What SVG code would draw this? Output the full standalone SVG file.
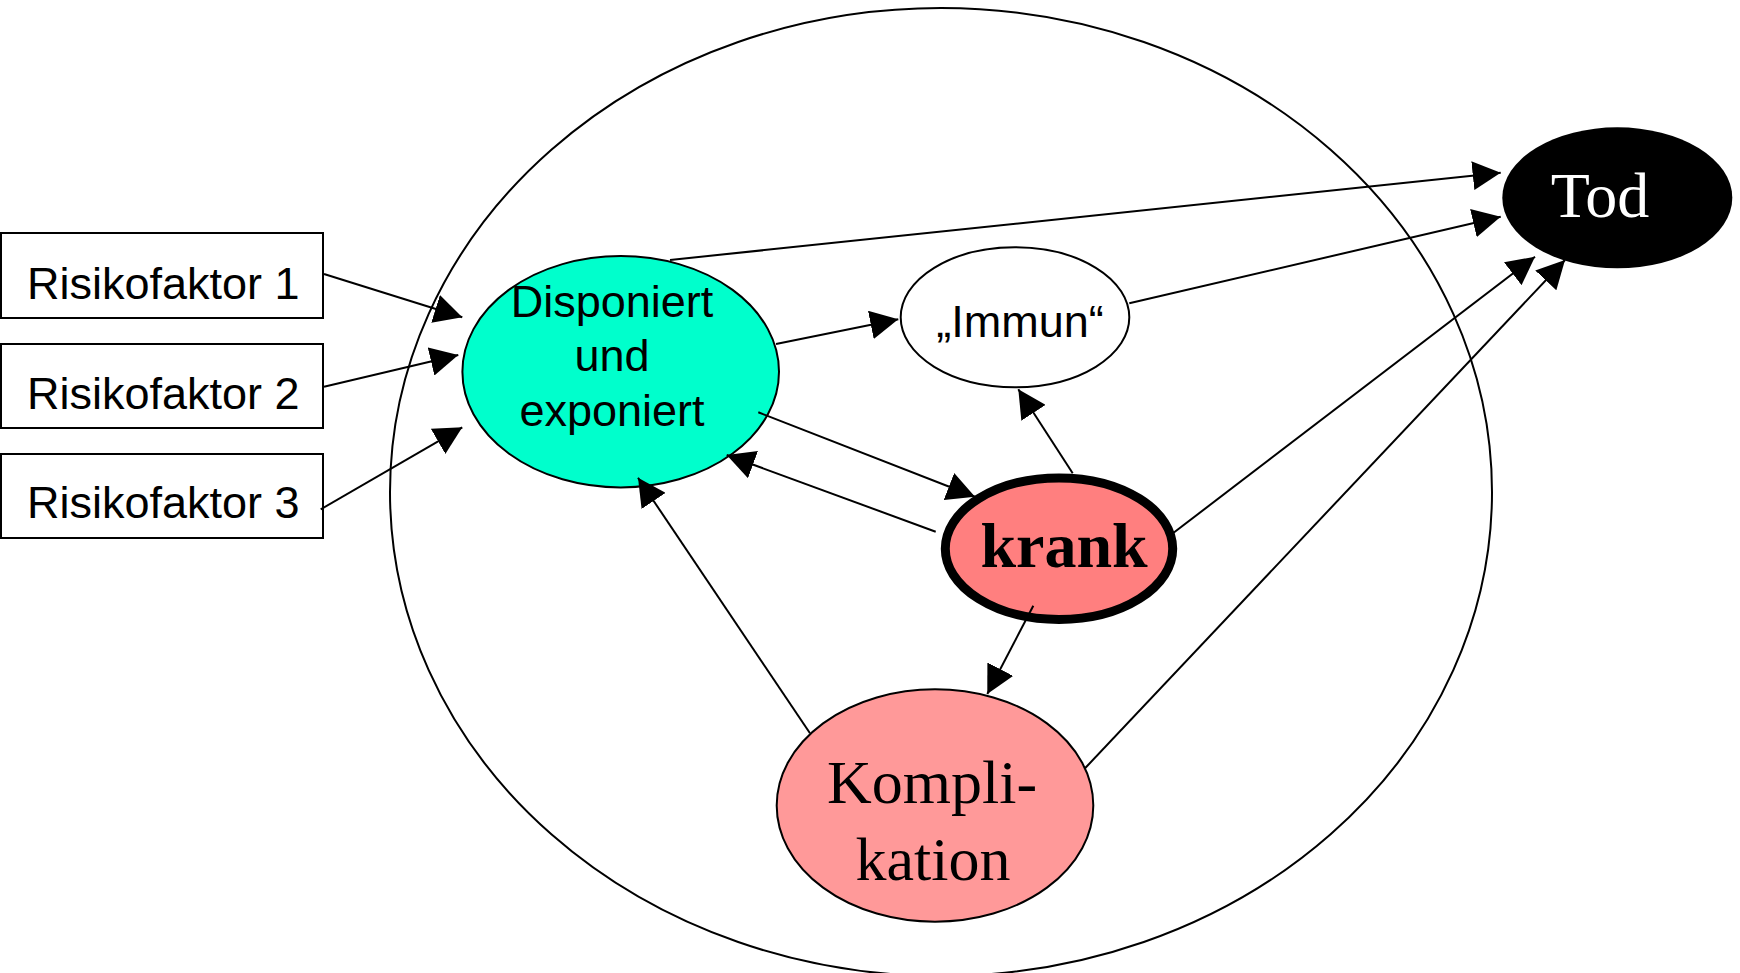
<svg xmlns="http://www.w3.org/2000/svg" width="1740" height="973" viewBox="0 0 1740 973">
<style>
.box{fill:#fff;stroke:#000;stroke-width:2}
.edge{stroke:#000;stroke-width:2;fill:none;marker-end:url(#ah)}
.sans{font-family:"Liberation Sans",Arial,sans-serif;font-size:45px;fill:#000}
.serif{font-family:"Liberation Serif","Times New Roman",serif;fill:#000}
</style>
<defs>
<marker id="ah" viewBox="0 0 28 29" refX="28" refY="14.5" markerWidth="28" markerHeight="29" markerUnits="userSpaceOnUse" orient="auto">
<path d="M0,0 L28,14.5 L0,29 z" fill="#000"/>
</marker>
</defs>
<rect width="1740" height="973" fill="#fff"/>
<g id="umgebung">
<ellipse cx="941" cy="492" rx="551" ry="484" fill="none" stroke="#000" stroke-width="2"/>
</g>
<g id="risikofaktor1">
<rect class="box" x="1" y="233" width="322" height="85"/>
<text class="sans" x="27" y="299">Risikofaktor 1</text>
</g>
<g id="risikofaktor2">
<rect class="box" x="1" y="344" width="322" height="84"/>
<text class="sans" x="27" y="409">Risikofaktor 2</text>
</g>
<g id="risikofaktor3">
<rect class="box" x="1" y="454" width="322" height="84"/>
<text class="sans" x="27" y="518">Risikofaktor 3</text>
</g>
<g id="disponiert">
<ellipse cx="620.7" cy="371.7" rx="158.3" ry="115.7" fill="#00FFCC" stroke="#000" stroke-width="2"/>
<text class="sans" text-anchor="middle" x="612" y="317" font-size="46">Disponiert</text>
<text class="sans" text-anchor="middle" x="612" y="371" font-size="46">und</text>
<text class="sans" text-anchor="middle" x="612" y="426" font-size="46">exponiert</text>
</g>
<g id="immun">
<ellipse cx="1015" cy="317.3" rx="114.3" ry="70" fill="#fff" stroke="#000" stroke-width="2"/>
<text class="sans" text-anchor="middle" x="1020" y="337">„Immun“</text>
</g>
<g id="krank">
<ellipse cx="1059" cy="548.7" rx="113.7" ry="70.8" fill="#FF7F7F" stroke="#000" stroke-width="9"/>
<text class="serif" text-anchor="middle" x="1064" y="567" font-size="64" font-weight="bold">krank</text>
</g>
<g id="komplikation">
<ellipse cx="935" cy="805.5" rx="158.3" ry="116.2" fill="#FF9999" stroke="#000" stroke-width="2"/>
<text class="serif" text-anchor="middle" x="932" y="803" font-size="62">Kompli-</text>
<text class="serif" text-anchor="middle" x="933" y="880" font-size="62">kation</text>
</g>
<g id="tod">
<ellipse cx="1617.3" cy="197.8" rx="115" ry="70.5" fill="#000"/>
<text class="serif" text-anchor="middle" x="1600" y="217" font-size="64" style="fill:#fff">Tod</text>
</g>
<g id="connectors">
<line class="edge" x1="324" y1="274" x2="462.3" y2="317.3"/>
<line class="edge" x1="324" y1="386.7" x2="458.3" y2="355"/>
<line class="edge" x1="320.7" y1="509.3" x2="462.3" y2="427.3"/>
<line class="edge" x1="670" y1="260" x2="1500.7" y2="172.7"/>
<line class="edge" x1="1129.3" y1="303.3" x2="1500.7" y2="216.7"/>
<line class="edge" x1="1168" y1="537" x2="1535" y2="256.7"/>
<line class="edge" x1="1085" y1="768.3" x2="1565" y2="260"/>
<line class="edge" x1="776" y1="344" x2="898.3" y2="319.3"/>
<line class="edge" x1="758.3" y1="412.3" x2="975" y2="496.7"/>
<line class="edge" x1="935.7" y1="531.7" x2="726.7" y2="455"/>
<line class="edge" x1="810" y1="733.3" x2="638" y2="477.7"/>
<line class="edge" x1="1072.7" y1="473.3" x2="1018.3" y2="389.3"/>
<line class="edge" x1="1033.3" y1="605.7" x2="987.3" y2="694"/>
</g>
</svg>
